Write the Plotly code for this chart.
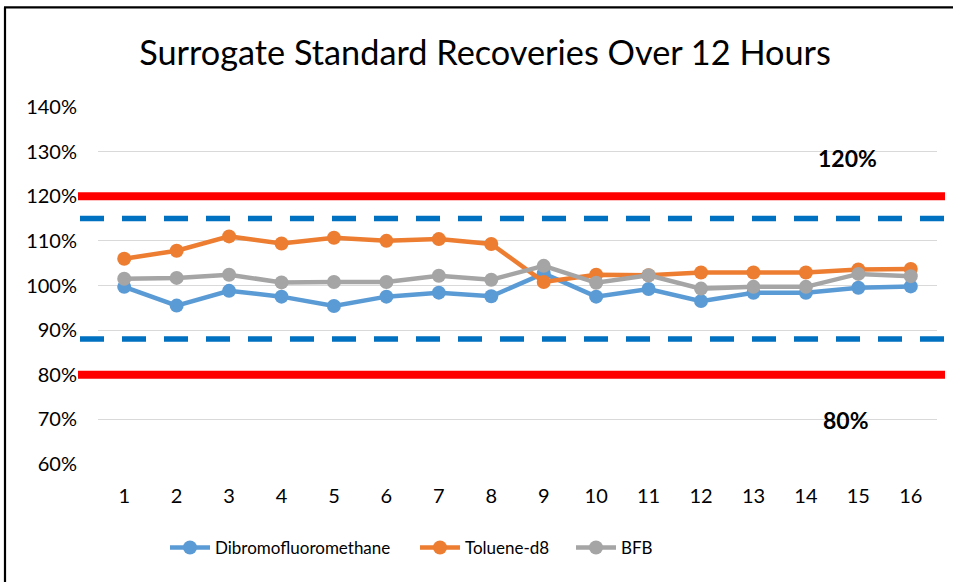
import plotly.graph_objects as go

# Injection number (hourly runs)
runs = [str(i) for i in range(1, 17)]

# Surrogate recoveries, percent
dibromofluoromethane = [99.7, 95.5, 98.8, 97.5, 95.4, 97.5, 98.4, 97.6,
                        102.7, 97.5, 99.2, 96.5, 98.35, 98.35, 99.5, 99.8]
toluene_d8 = [106.0, 107.8, 111.0, 109.4, 110.7, 110.0, 110.4, 109.3,
              100.8, 102.4, 102.3, 102.9, 102.9, 102.9, 103.6, 103.7]
bfb = [101.5, 101.7, 102.4, 100.7, 100.8, 100.8, 102.2, 101.3,
       104.4, 100.6, 102.3, 99.3, 99.7, 99.7, 102.6, 102.1]

# Acceptance limits (solid red) and warning limits (dashed blue), percent
upper_limit, lower_limit = 120, 80
upper_warn, lower_warn = 115, 88

y_ticks = list(range(60, 141, 10))
y_tick_text = [f"{v}%" for v in y_ticks]

FONT = "Lato"

# plot-area geometry in pixels, used to place items given in paper units
L, R, T, B = 98, 937, 106.7, 464.0
PW, PH = R - L, B - T


def px_x(px):
    return (px - L) / PW


def px_y(py):
    return (B - py) / PH


series = [
    ("Dibromofluoromethane", dibromofluoromethane, "#5B9BD5", "legend", 170),
    ("Toluene-d8", toluene_d8, "#ED7D31", "legend2", 420),
    ("BFB", bfb, "#A5A5A5", "legend3", 576),
]

fig = go.Figure()
legend_layout = {}
for name, vals, color, leg, leg_px in series:
    fig.add_trace(go.Scatter(
        x=runs, y=vals, name=name, mode="lines+markers",
        line=dict(color=color, width=4.5),
        marker=dict(color=color, size=14),
        legend=leg,
    ))
    legend_layout[leg] = dict(
        orientation="h", x=px_x(leg_px - 5), xanchor="left",
        y=px_y(548), yanchor="middle", bgcolor="rgba(0,0,0,0)",
        font=dict(family=FONT, size=17, color="black"),
        itemwidth=40,
    )

shapes = []
for yv in (upper_limit, lower_limit):
    shapes.append(dict(type="line", xref="paper", yref="y",
                       x0=px_x(78), x1=px_x(945), y0=yv, y1=yv,
                       line=dict(color="#FF0000", width=8)))
for yv in (upper_warn, lower_warn):
    shapes.append(dict(type="line", xref="paper", yref="y",
                       x0=px_x(80), x1=px_x(945), y0=yv, y1=yv,
                       line=dict(color="#0070C0", width=5.5, dash="24px,18px")))
# chart frame (left and top edges)
shapes.append(dict(type="line", xref="paper", yref="paper",
                   x0=px_x(5), x1=px_x(5), y0=px_y(7), y1=px_y(590),
                   line=dict(color="black", width=2.2)))
shapes.append(dict(type="line", xref="paper", yref="paper",
                   x0=px_x(4), x1=px_x(960), y0=px_y(7), y1=px_y(7),
                   line=dict(color="black", width=2.2)))

annotations = [
    dict(text=f"<b>{upper_limit}%</b>", xref="paper", yref="paper",
         x=px_x(847), y=px_y(158), xanchor="center", yanchor="middle",
         showarrow=False, font=dict(family=FONT, size=23, color="black")),
    dict(text=f"<b>{lower_limit}%</b>", xref="paper", yref="paper",
         x=px_x(846), y=px_y(420), xanchor="center", yanchor="middle",
         showarrow=False, font=dict(family=FONT, size=23, color="black")),
]

fig.update_layout(
    width=953, height=582,
    margin=dict(l=L, r=953 - R, t=T, b=582 - B),
    paper_bgcolor="white", plot_bgcolor="white",
    font=dict(family=FONT, color="black"),
    title=dict(text="Surrogate Standard Recoveries Over 12 Hours",
               x=485 / 953, xanchor="center", y=1 - 53 / 582, yanchor="middle",
               font=dict(family=FONT, size=34.3, color="black")),
    xaxis=dict(type="category", range=[-0.5, 15.5], showgrid=False,
               showline=False, zeroline=False, ticks="",
               ticklabelstandoff=18,
               tickfont=dict(family=FONT, size=20, color="black")),
    yaxis=dict(range=[60, 140], tickvals=y_ticks, ticktext=y_tick_text,
               showgrid=True, gridcolor="#D9D9D9", gridwidth=1.2,
               zeroline=False, showline=False, ticks="",
               ticklabelstandoff=20,
               tickfont=dict(family=FONT, size=20, color="black")),
    showlegend=True,
    shapes=shapes,
    annotations=annotations,
    **legend_layout,
)

fig.write_html("out.html")
